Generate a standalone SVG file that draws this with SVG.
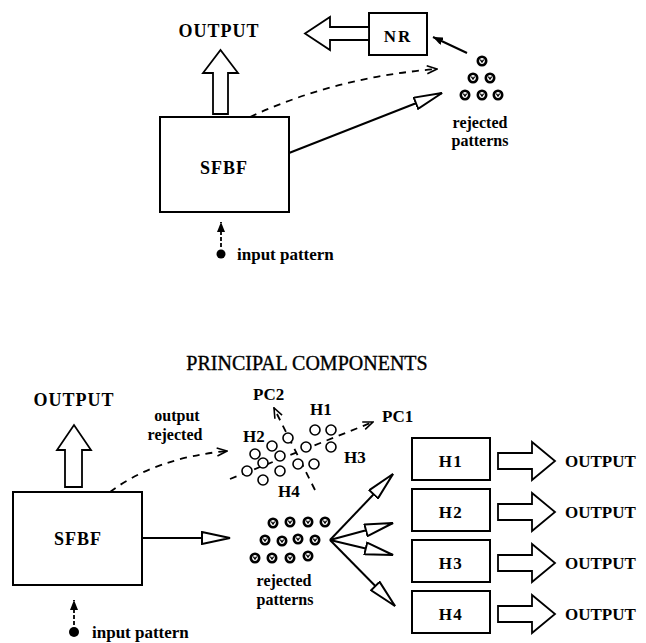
<svg xmlns="http://www.w3.org/2000/svg" width="646" height="643" viewBox="0 0 646 643">
<style>
  .lbl{font-family:"Liberation Serif","Times New Roman",serif;font-weight:bold;fill:#000}
  .big{font-size:18px;letter-spacing:1px}
  .med{font-size:17px}
  .sml{font-size:16px}
  .title{font-family:"Liberation Serif","Times New Roman",serif;font-size:20px;fill:#000;stroke:#000;stroke-width:0.35}
  .box{fill:#fff;stroke:#000;stroke-width:2}
  .blk{fill:#fff;stroke:#000;stroke-width:1.8;stroke-linejoin:miter}
  .ln{fill:none;stroke:#000;stroke-width:2}
  .dash{fill:none;stroke:#000;stroke-width:1.8;stroke-dasharray:7 6}
  .oc{fill:#fff;stroke:#000;stroke-width:1.6}
</style>
<defs>
  <marker id="tri" viewBox="0 0 30 14" markerWidth="30" markerHeight="14" refX="29" refY="7" orient="auto" markerUnits="userSpaceOnUse">
    <path d="M1,1 L29,7 L1,13 Z" fill="#fff" stroke="#000" stroke-width="2"/>
  </marker>
  <marker id="chev" viewBox="0 0 12 10" markerWidth="12" markerHeight="10" refX="11" refY="5" orient="auto" markerUnits="userSpaceOnUse">
    <path d="M1,1 L11,5 L1,9" fill="none" stroke="#000" stroke-width="1.6"/>
  </marker>
  <marker id="sol" viewBox="0 0 11 8" markerWidth="11" markerHeight="8" refX="10" refY="4" orient="auto" markerUnits="userSpaceOnUse">
    <path d="M0,0 L10,4 L0,8 Z" fill="#000"/>
  </marker>
  <symbol id="rp" viewBox="-5 -5 10 10" width="10" height="10" overflow="visible">
    <circle r="4.2" fill="#fff" stroke="#000" stroke-width="2.6"/>
    <path d="M-1.6,-1.4 L0,1 L1.6,-1.4" fill="none" stroke="#000" stroke-width="1.3"/>
  </symbol>
</defs>

<!-- ===== TOP DIAGRAM ===== -->
<g id="output-top"><text class="lbl big" x="219" y="37" text-anchor="middle">OUTPUT</text></g>
<g id="nr"><rect class="box" x="369" y="13" width="58" height="42"/><text class="lbl med" x="398" y="42" text-anchor="middle" letter-spacing="2">NR</text></g>
<g id="sfbf-top"><rect class="box" x="160" y="117" width="129" height="95"/><text class="lbl big" x="224" y="174" text-anchor="middle" letter-spacing="2">SFBF</text></g>
<g id="input-top"><circle cx="221" cy="254" r="4.5" fill="#000"/><text class="lbl med" x="237" y="260">input pattern</text></g>
<g id="rejected-top">
  <use href="#rp" x="477" y="56"/>
  <use href="#rp" x="468" y="73"/><use href="#rp" x="485" y="73"/>
  <use href="#rp" x="460" y="90"/><use href="#rp" x="477" y="90"/><use href="#rp" x="493" y="90"/>
  <text class="lbl sml" x="480" y="128" text-anchor="middle">rejected</text>
  <text class="lbl sml" x="480" y="146" text-anchor="middle">patterns</text>
</g>

<!-- ===== BOTTOM DIAGRAM ===== -->
<g id="title"><text class="title" x="307" y="370" text-anchor="middle">PRINCIPAL COMPONENTS</text></g>
<g id="output-bottom"><text class="lbl big" x="74" y="406" text-anchor="middle">OUTPUT</text></g>
<g id="sfbf-bottom"><rect class="box" x="13" y="492" width="129" height="93"/><text class="lbl big" x="78" y="545" text-anchor="middle" letter-spacing="2">SFBF</text></g>
<g id="input-bottom"><circle cx="74" cy="632" r="5" fill="#000"/><text class="lbl med" x="92" y="638">input pattern</text></g>
<g id="output-rejected-label">
  <text class="lbl sml" x="177" y="421" text-anchor="middle">output</text>
  <text class="lbl sml" x="175" y="440" text-anchor="middle">rejected</text>
</g>

<g id="pc-cluster">
  <line class="dash" x1="230" y1="479" x2="373" y2="422" marker-end="url(#chev)"/>
  <line class="dash" x1="315" y1="490" x2="274" y2="408" marker-end="url(#chev)"/>
  <circle class="oc" cx="315" cy="430" r="5"/>
  <circle class="oc" cx="331" cy="430" r="5"/>
  <circle class="oc" cx="288" cy="438" r="5"/>
  <circle class="oc" cx="272" cy="446" r="5"/>
  <circle class="oc" cx="306" cy="447" r="5"/>
  <circle class="oc" cx="331" cy="447" r="5"/>
  <circle class="oc" cx="255" cy="454" r="5"/>
  <circle class="oc" cx="280" cy="456" r="5"/>
  <circle class="oc" cx="263" cy="463" r="5"/>
  <circle class="oc" cx="298" cy="464" r="5"/>
  <circle class="oc" cx="314" cy="464" r="5"/>
  <circle class="oc" cx="247" cy="471" r="5" stroke-width="2.4"/>
  <circle class="oc" cx="280" cy="471" r="5"/>
  <circle class="oc" cx="263" cy="480" r="5"/>
  <text class="lbl med" x="253" y="400">PC2</text>
  <text class="lbl med" x="382" y="422">PC1</text>
  <text class="lbl med" x="310" y="415">H1</text>
  <text class="lbl med" x="243" y="442">H2</text>
  <text class="lbl med" x="344" y="463">H3</text>
  <text class="lbl med" x="278" y="497">H4</text>
</g>

<g id="rejected-bottom">
  <use href="#rp" x="268" y="518"/><use href="#rp" x="285" y="517"/><use href="#rp" x="303" y="517"/><use href="#rp" x="320" y="517"/>
  <use href="#rp" x="260" y="535"/><use href="#rp" x="277" y="536"/><use href="#rp" x="293" y="534"/><use href="#rp" x="310" y="535"/>
  <use href="#rp" x="250" y="553"/><use href="#rp" x="267" y="553"/><use href="#rp" x="285" y="553"/><use href="#rp" x="303" y="551"/>
  <text class="lbl sml" x="284" y="586" text-anchor="middle">rejected</text>
  <text class="lbl sml" x="285" y="605" text-anchor="middle">patterns</text>
</g>

<g id="h1"><rect class="box" x="412" y="438" width="78" height="42"/><text class="lbl med" x="451" y="467" text-anchor="middle" letter-spacing="1.5">H1</text></g>
<g id="h2"><rect class="box" x="412" y="489" width="78" height="42"/><text class="lbl med" x="451" y="518" text-anchor="middle" letter-spacing="1.5">H2</text></g>
<g id="h3"><rect class="box" x="412" y="540" width="78" height="42"/><text class="lbl med" x="451" y="569" text-anchor="middle" letter-spacing="1.5">H3</text></g>
<g id="h4"><rect class="box" x="412" y="591" width="78" height="42"/><text class="lbl med" x="451" y="620" text-anchor="middle" letter-spacing="1.5">H4</text></g>
<g id="outputs-right">
  <text class="lbl med" x="565" y="467">OUTPUT</text>
  <text class="lbl med" x="565" y="518">OUTPUT</text>
  <text class="lbl med" x="565" y="569">OUTPUT</text>
  <text class="lbl med" x="565" y="620">OUTPUT</text>
</g>

<!-- ===== CONNECTORS ===== -->
<g id="connectors">
  <!-- top -->
  <polygon class="blk" points="213,114 213,73 203,73 220.5,50 238,73 228,73 228,114"/>
  <polygon class="blk" points="369,27 330,27 330,17 305,33.5 330,50 330,40 369,40"/>
  <path class="dash" d="M250,117 Q336,77 437,69" marker-end="url(#chev)"/>
  <line class="ln" x1="289" y1="153" x2="442" y2="93" marker-end="url(#tri)"/>
  <line class="ln" x1="467" y1="53" x2="433" y2="37" marker-end="url(#sol)"/>
  <line x1="221" y1="247" x2="221" y2="222" stroke="#000" stroke-width="1.8" stroke-dasharray="4 2" marker-end="url(#sol)"/>
  <!-- bottom -->
  <polygon class="blk" points="65,487 65,450 57,450 74,425 91,450 82,450 82,487"/>
  <path class="dash" d="M110,492 Q155,458 227,451" marker-end="url(#chev)"/>
  <line class="ln" x1="142" y1="538" x2="230" y2="538" marker-end="url(#tri)"/>
  <line x1="74" y1="625" x2="74" y2="600" stroke="#000" stroke-width="1.8" stroke-dasharray="4 2" marker-end="url(#sol)"/>
  <line class="ln" x1="330" y1="540" x2="393" y2="474" marker-end="url(#tri)"/>
  <line class="ln" x1="330" y1="540" x2="393" y2="523" marker-end="url(#tri)"/>
  <line class="ln" x1="330" y1="540" x2="393" y2="555" marker-end="url(#tri)"/>
  <line class="ln" x1="330" y1="540" x2="395" y2="606" marker-end="url(#tri)"/>
  <polygon class="blk" points="498,453 532,453 532,442 555,461 532,480 532,469 498,469"/>
  <polygon class="blk" points="498,504 532,504 532,493 555,512 532,531 532,520 498,520"/>
  <polygon class="blk" points="498,555 532,555 532,544 555,563 532,582 532,571 498,571"/>
  <polygon class="blk" points="498,606 532,606 532,595 555,614 532,633 532,622 498,622"/>
</g>
</svg>
